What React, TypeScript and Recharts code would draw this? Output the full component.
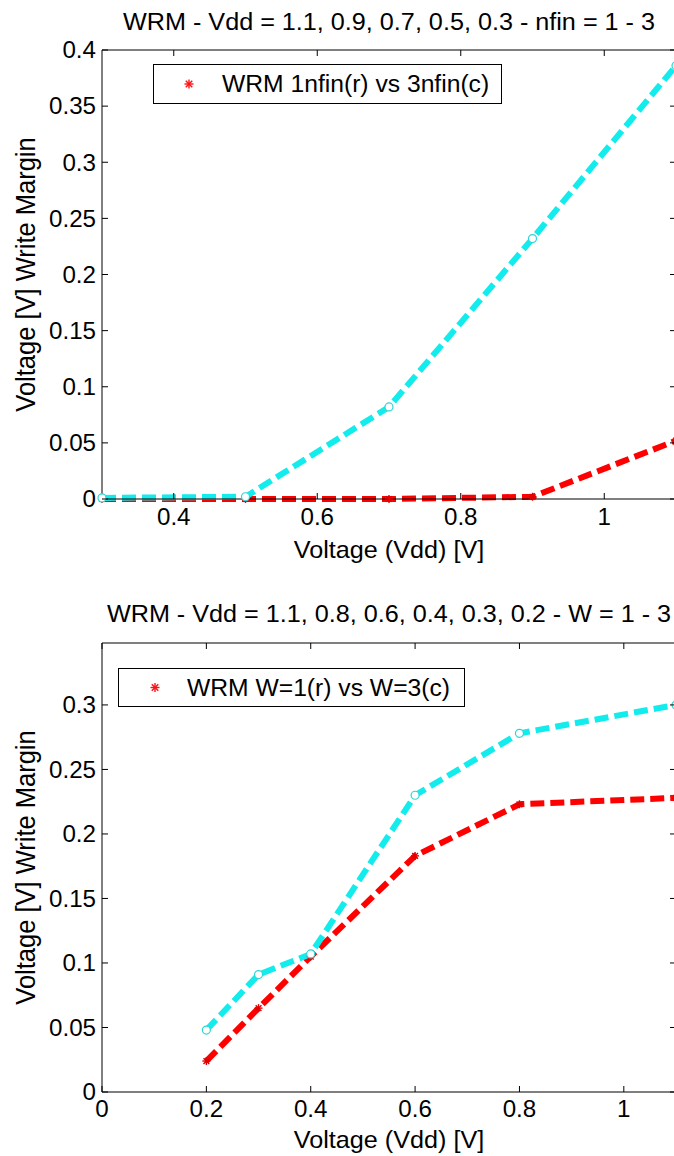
import React from 'react';
import { LineChart, Line, XAxis, YAxis, Legend, ReferenceLine } from 'recharts';

// Write margin vs. supply voltage, fin-count comparison (top panel)
const nfinVdd = [0.3, 0.5, 0.7, 0.9, 1.1];
const wrm1nfin = [0, 0, 0, 0.002, 0.052];
const wrm3nfin = [0.001, 0.002, 0.082, 0.232, 0.386];
const nfinXTicks = [0.4, 0.6, 0.8, 1];
const nfinYTicks = [0, 0.05, 0.1, 0.15, 0.2, 0.25, 0.3, 0.35, 0.4];

// Write margin vs. supply voltage, width comparison (bottom panel)
const wVdd = [0.2, 0.3, 0.4, 0.6, 0.8, 1.1];
const wrmW1 = [0.024, 0.065, 0.105, 0.183, 0.223, 0.228];
const wrmW3 = [0.048, 0.091, 0.107, 0.23, 0.278, 0.3];
const wXTicks = [0, 0.2, 0.4, 0.6, 0.8, 1];
const wYTicks = [0, 0.05, 0.1, 0.15, 0.2, 0.25, 0.3];

const RED = '#ff0000';
const CYAN = '#12ecec';
const FONT = '"Liberation Sans", Arial, Helvetica, sans-serif';
const SX = 1.05; // horizontal glyph stretch of the exported figure
const TICK = 6;
const CHART_W = 700;
const PLOT_L = 102;
const PLOT_R = 676;

type STextProps = {
  x: number;
  y: number;
  size: number;
  anchor?: 'start' | 'middle' | 'end';
  rotate?: boolean;
  children: React.ReactNode;
};

function SText({ x, y, size, anchor = 'middle', rotate = false, children }: STextProps) {
  const tf = `translate(${x} ${y}) scale(${SX} 1)${rotate ? ' rotate(-90)' : ''}`;
  return (
    <text
      transform={tf}
      x={0}
      y={0}
      dy="0.36em"
      textAnchor={anchor}
      fontFamily={FONT}
      fontSize={size}
      fill="#000"
    >
      {children}
    </text>
  );
}

function StarMarker({ cx, cy, r = 4, color = '#e00000' }: { cx: number; cy: number; r?: number; color?: string }) {
  const d = r * 0.72;
  return (
    <g stroke={color} strokeWidth={1.4} fill="none">
      <line x1={cx - r} y1={cy} x2={cx + r} y2={cy} />
      <line x1={cx} y1={cy - r} x2={cx} y2={cy + r} />
      <line x1={cx - d} y1={cy - d} x2={cx + d} y2={cy + d} />
      <line x1={cx - d} y1={cy + d} x2={cx + d} y2={cy - d} />
    </g>
  );
}

function starDot(p: any) {
  if (p.cx == null || p.cy == null) return <g key={`s${p.index}`} />;
  return <StarMarker key={`s${p.index}`} cx={p.cx} cy={p.cy} />;
}

function circleDot(p: any) {
  if (p.cx == null || p.cy == null) return <g key={`c${p.index}`} />;
  return (
    <circle key={`c${p.index}`} cx={p.cx} cy={p.cy} r={4} fill="#ffffff" stroke="#2bd6d6" strokeWidth={1.2} />
  );
}

type PanelProps = {
  top: number;
  height: number;
  plotTop: number;
  plotBottom: number;
  xDomain: [number, number];
  yDomain: [number, number];
  xTicks: number[];
  yTicks: number[];
  vdd: number[];
  red: number[];
  cyan: number[];
  title: string;
  titleY: number;
  xLabelY: number;
  legendText: string;
  legendLeft: number;
  legendTop: number;
  legendW: number;
  legendH: number;
  legendStarX: number;
  legendTextX: number;
  xTickLabelOffset: number;
};

function Panel(props: PanelProps) {
  const {
    top, height, plotTop, plotBottom, xDomain, yDomain, xTicks, yTicks, vdd, red, cyan,
    title, titleY, xLabelY, legendText, legendLeft, legendTop, legendW, legendH,
    legendStarX, legendTextX, xTickLabelOffset,
  } = props;

  const rows = vdd.map((v, i) => ({ vdd: v, red: red[i], cyan: cyan[i] }));
  const plotH = plotBottom - plotTop;
  const plotW = PLOT_R - PLOT_L;
  const xAxisH = 30;
  const yAxisW = 40;

  const renderXTick = (p: any) => {
    const { x, y, payload } = p;
    return (
      <g key={`xt${payload.value}`}>
        <line x1={x} y1={y} x2={x} y2={y - TICK} stroke="#000" strokeWidth={1} />
        <line x1={x} y1={y - plotH} x2={x} y2={y - plotH + TICK} stroke="#000" strokeWidth={1} />
        <SText x={x} y={y + xTickLabelOffset} size={23}>{String(payload.value)}</SText>
      </g>
    );
  };

  const renderYTick = (p: any) => {
    const { x, y, payload } = p;
    return (
      <g key={`yt${payload.value}`}>
        <line x1={x} y1={y} x2={x + TICK} y2={y} stroke="#000" strokeWidth={1} />
        <line x1={x + plotW} y1={y} x2={x + plotW - TICK} y2={y} stroke="#000" strokeWidth={1} />
        <SText x={x - 6} y={y} size={23} anchor="end">{String(payload.value)}</SText>
      </g>
    );
  };

  const legendContent = () => (
    <svg width={legendW + 2} height={legendH + 2} style={{ display: 'block' }}>
      <rect x={0.5} y={0.5} width={legendW} height={legendH} fill="#fff" stroke="#000" strokeWidth={1} />
      <StarMarker cx={legendStarX} cy={legendH / 2 + 0.5} r={4.5} color="#ff1010" />
      <SText x={legendTextX} y={legendH / 2 + 0.5} size={23.5} anchor="start">{legendText}</SText>
    </svg>
  );

  return (
    <div style={{ position: 'absolute', left: 0, top, width: CHART_W, height }}>
      <LineChart
        width={CHART_W}
        height={height}
        data={rows}
        margin={{
          top: plotTop,
          right: CHART_W - PLOT_R,
          bottom: height - plotBottom - xAxisH,
          left: PLOT_L - yAxisW,
        }}
      >
        <XAxis
          dataKey="vdd"
          type="number"
          domain={xDomain}
          ticks={xTicks}
          interval={0}
          height={xAxisH}
          tickSize={0}
          tickMargin={0}
          tickLine={false}
          axisLine={{ stroke: '#000', strokeWidth: 1 }}
          tick={renderXTick}
        />
        <YAxis
          type="number"
          domain={yDomain}
          ticks={yTicks}
          interval={0}
          width={yAxisW}
          tickSize={0}
          tickMargin={0}
          tickLine={false}
          axisLine={{ stroke: '#000', strokeWidth: 1 }}
          tick={renderYTick}
        />
        <ReferenceLine y={yDomain[1]} stroke="#000" strokeWidth={1} ifOverflow="visible" />
        <ReferenceLine x={xDomain[1]} stroke="#000" strokeWidth={1} ifOverflow="visible" />
        <Line
          type="linear"
          dataKey="red"
          stroke={RED}
          strokeWidth={6}
          strokeDasharray="14 6"
          dot={starDot}
          activeDot={false}
          isAnimationActive={false}
        />
        <Line
          type="linear"
          dataKey="cyan"
          stroke={CYAN}
          strokeWidth={6}
          strokeDasharray="14 6"
          dot={circleDot}
          activeDot={false}
          isAnimationActive={false}
        />
        <Legend
          layout="vertical"
          verticalAlign="middle"
          align="center"
          wrapperStyle={{ left: legendLeft, top: legendTop, width: legendW + 2, height: legendH + 2 }}
          content={legendContent}
        />
        <SText x={(PLOT_L + PLOT_R) / 2} y={titleY} size={24}>{title}</SText>
        <SText x={(PLOT_L + PLOT_R) / 2} y={xLabelY} size={24}>Voltage (Vdd) [V]</SText>
        <SText x={25} y={(plotTop + plotBottom) / 2} size={25.5} rotate>Voltage [V] Write Margin</SText>
      </LineChart>
    </div>
  );
}

export default function App() {
  return (
    <div
      style={{
        position: 'absolute',
        left: 0,
        top: 0,
        width: 674,
        height: 1156,
        overflow: 'hidden',
        background: '#fff',
      }}
    >
      <Panel
        top={0}
        height={580}
        plotTop={50}
        plotBottom={499}
        xDomain={[0.3, 1.1]}
        yDomain={[0, 0.4]}
        xTicks={nfinXTicks}
        yTicks={nfinYTicks}
        vdd={nfinVdd}
        red={wrm1nfin}
        cyan={wrm3nfin}
        title="WRM - Vdd = 1.1, 0.9, 0.7, 0.5, 0.3 - nfin = 1 - 3"
        titleY={21}
        xLabelY={549}
        legendText="WRM 1nfin(r) vs 3nfin(c)"
        legendLeft={153}
        legendTop={64}
        legendW={348}
        legendH={39}
        legendStarX={36}
        legendTextX={69}
        xTickLabelOffset={18}
      />
      <Panel
        top={590}
        height={566}
        plotTop={53}
        plotBottom={502}
        xDomain={[0, 1.1]}
        yDomain={[0, 0.348]}
        xTicks={wXTicks}
        yTicks={wYTicks}
        vdd={wVdd}
        red={wrmW1}
        cyan={wrmW3}
        title="WRM - Vdd = 1.1, 0.8, 0.6, 0.4, 0.3, 0.2 - W = 1 - 3"
        titleY={23}
        xLabelY={549}
        legendText="WRM W=1(r) vs W=3(c)"
        legendLeft={118}
        legendTop={78}
        legendW={346}
        legendH={38}
        legendStarX={37}
        legendTextX={69}
        xTickLabelOffset={17}
      />
    </div>
  );
}
